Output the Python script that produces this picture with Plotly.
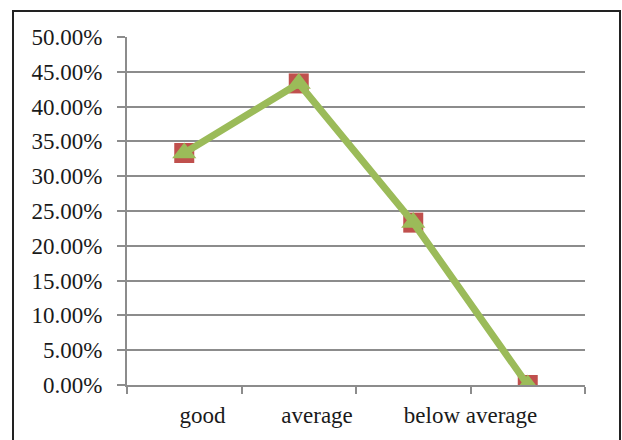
import plotly.graph_objects as go

categories = ["good", "average", "below average", ""]
values = [0.3333, 0.4333, 0.2333, 0.0]
label_positions = [0.16, 1.16, 2.5]
label_texts = ["good", "average", "below average"]
y_ticks = [0.0, 0.05, 0.10, 0.15, 0.20, 0.25, 0.30, 0.35, 0.40, 0.45, 0.50]

x = list(range(len(categories)))

fig = go.Figure()
fig.add_trace(go.Scatter(
    x=x, y=values, mode="markers",
    marker=dict(symbol="square", size=20, color="#c0504d"),
    showlegend=False, hoverinfo="skip",
))
fig.add_trace(go.Scatter(
    x=x, y=values, mode="lines+markers",
    line=dict(color="#9bbb59", width=7),
    marker=dict(symbol="triangle-up", size=21, color="#9bbb59"),
    showlegend=False,
))

font = dict(family="Liberation Serif, Times New Roman, serif", size=23, color="#1a1a1a")

fig.update_layout(
    width=622, height=440,
    margin=dict(l=127, r=37, t=37, b=55),
    paper_bgcolor="white", plot_bgcolor="white",
    font=font,
    xaxis=dict(
        range=[-0.5, 3.5], showgrid=False, zeroline=False,
        showline=True, linecolor="#8c8c8c", linewidth=2,
        tickmode="array", tickvals=label_positions, ticktext=label_texts,
        ticks="", ticklabelstandoff=8,
        minor=dict(tickmode="array", tickvals=[-0.5, 0.5, 1.5, 2.5, 3.5],
                   ticks="outside", ticklen=7, tickwidth=2, tickcolor="#8c8c8c",
                   showgrid=False),
        tickfont=font,
    ),
    yaxis=dict(
        range=[0, 0.5], tickmode="array", tickvals=y_ticks, tickformat=".2%",
        showgrid=True, gridcolor="#8c8c8c", gridwidth=2, zeroline=False,
        showline=True, linecolor="#8c8c8c", linewidth=2,
        ticks="outside", ticklen=8, tickwidth=2, tickcolor="#8c8c8c",
        ticklabelstandoff=10,
        tickfont=font,
    ),
    shapes=[dict(
        type="rect", xref="paper", yref="paper",
        x0=(13 - 127) / 458, x1=(620 - 127) / 458,
        y0=(385 - 450) / 348, y1=(385 - 11) / 348,
        line=dict(color="#222222", width=2), layer="below",
    )],
)

fig.write_html("out.html")
